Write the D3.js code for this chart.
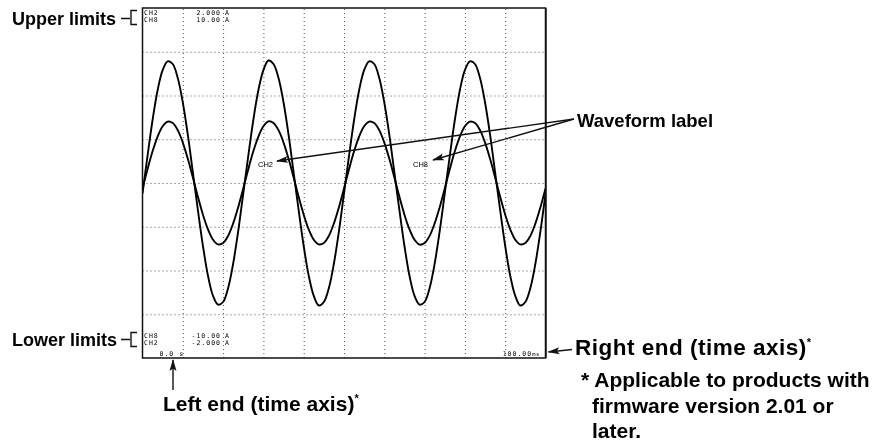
<!DOCTYPE html>
<html><head><meta charset="utf-8">
<script src="https://cdn.jsdelivr.net/npm/d3@7"></script>
<style>html,body{margin:0;padding:0;background:#fff;} svg{display:block;will-change:transform;}</style>
</head><body>
<svg id="chart" width="881" height="441"></svg>
<script>
// ---------- data ----------
const timesMs = [0,1.25,2.5,3.75,5,6.25,7.5,8.75,10,11.25,12.5,13.75,15,16.25,17.5,18.75,20,21.25,22.5,23.75,
  25,26.25,27.5,28.75,30,31.25,32.5,33.75,35,36.25,37.5,38.75,40,41.25,42.5,43.75,45,46.25,47.5,48.75,
  50,51.25,52.5,53.75,55,56.25,57.5,58.75,60,61.25,62.5,63.75,65,66.25,67.5,68.75,70,71.25,72.5,73.75,
  75,76.25,77.5,78.75,80,81.25,82.5,83.75,85,86.25,87.5,88.75,90,91.25,92.5,93.75,95,96.25,97.5,98.75,100];
const ch2Values = [-0.12,0.31,0.72,1.06,1.29,1.39,1.36,1.20,0.92,0.55,0.12,-0.31,-0.72,-1.06,-1.29,-1.39,-1.36,-1.20,-0.92,-0.55,
  -0.12,0.31,0.72,1.06,1.29,1.40,1.36,1.20,0.92,0.55,0.12,-0.31,-0.72,-1.06,-1.29,-1.40,-1.36,-1.20,-0.92,-0.55,
  -0.12,0.31,0.72,1.06,1.29,1.39,1.36,1.20,0.92,0.55,0.12,-0.31,-0.72,-1.06,-1.29,-1.39,-1.36,-1.20,-0.92,-0.55,
  -0.12,0.31,0.72,1.06,1.29,1.39,1.36,1.20,0.92,0.55,0.12,-0.31,-0.72,-1.06,-1.29,-1.40,-1.36,-1.20,-0.92,-0.55,-0.12];
const ch8Values = [-0.31,0.79,1.81,2.65,3.24,3.51,3.43,3.02,2.31,1.38,0.31,-0.79,-1.81,-2.65,-3.24,-3.51,-3.43,-3.02,-2.31,-1.38,
  -0.31,0.79,1.81,2.65,3.24,3.52,3.43,3.02,2.31,1.38,0.31,-0.79,-1.81,-2.65,-3.24,-3.51,-3.43,-3.02,-2.31,-1.38,
  -0.31,0.79,1.81,2.65,3.24,3.51,3.43,3.02,2.31,1.38,0.31,-0.79,-1.81,-2.65,-3.24,-3.52,-3.43,-3.02,-2.31,-1.38,
  -0.31,0.79,1.81,2.65,3.24,3.51,3.43,3.02,2.31,1.38,0.31,-0.79,-1.81,-2.65,-3.24,-3.51,-3.43,-3.02,-2.31,-1.38,-0.31];
const timeDomainMs = [0, 100];
const ch2RangeA = [-2, 2];
const ch8RangeA = [-10, 10];
const timeGridTicks = [10,20,30,40,50,60,70,80,90];
const ch2GridTicks = [-1.5,-1,-0.5,0,0.5,1,1.5];
const upperLimitChannels = ["CH2","CH8"];
const upperLimitValues = ["2.000","10.00"];
const lowerLimitChannels = ["CH8","CH2"];
const lowerLimitValues = ["-10.00","-2.000"];
const unitLabel = "A";
const leftEndLabel = "0.0 s";
const rightEndValue = "100.00";
const rightEndUnit = "ms";
const waveformLabels = ["CH2","CH8"];
const calloutTexts = {upper:"Upper limits", lower:"Lower limits", waveform:"Waveform label",
  leftEnd:"Left end (time axis)", rightEnd:"Right end (time axis)"};
const footnoteLines = ["* Applicable to products with","firmware version 2.01 or","later."];

// ---------- drawing ----------
const svg = d3.select("#chart");
const frame = {left:142.5, right:545.5, top:8, bottom:358};
const x = d3.scaleLinear().domain(timeDomainMs).range([frame.left, frame.right]);
const y2 = d3.scaleLinear().domain(ch2RangeA).range([frame.bottom, frame.top]);
const y8 = d3.scaleLinear().domain(ch8RangeA).range([frame.bottom, frame.top]);

const defs = svg.append("defs");
defs.append("marker").attr("id","ah").attr("viewBox","0 -4 12 8")
  .attr("refX",11).attr("refY",0).attr("markerWidth",12).attr("markerHeight",8)
  .attr("markerUnits","userSpaceOnUse").attr("orient","auto")
  .append("path").attr("d","M0,-3.5L12,0L0,3.5L2.5,0Z").attr("fill","#111");

// grid via axes
const plotH = frame.bottom - frame.top, plotW = frame.right - frame.left;
const gx = svg.append("g").attr("transform",`translate(0,${frame.bottom})`)
  .call(d3.axisBottom(x).tickValues(timeGridTicks).tickSize(-plotH).tickFormat(""));
const gy = svg.append("g").attr("transform",`translate(${frame.left},0)`)
  .call(d3.axisLeft(y2).tickValues(ch2GridTicks).tickSize(-plotW).tickFormat(""));
[gx, gy].forEach(g => {
  g.select(".domain").remove();
  g.selectAll(".tick line").attr("stroke","#555").attr("stroke-width",1).attr("stroke-dasharray","1,3");
});

// waveforms
const pts = timesMs.map((t,i)=>({t, a:ch2Values[i], b:ch8Values[i]}));
defs.append("clipPath").attr("id","clip").append("rect")
  .attr("x",frame.left).attr("y",frame.top).attr("width",plotW).attr("height",plotH);
const wave = svg.append("g").attr("clip-path","url(#clip)");
wave.append("path").datum(pts).attr("fill","none").attr("stroke","#000").attr("stroke-width",1.9)
  .attr("d", d3.line().x(d=>x(d.t)).y(d=>y2(d.a)).curve(d3.curveCatmullRom.alpha(0.5)));
wave.append("path").datum(pts).attr("fill","none").attr("stroke","#000").attr("stroke-width",1.9)
  .attr("d", d3.line().x(d=>x(d.t)).y(d=>y8(d.b)).curve(d3.curveCatmullRom.alpha(0.5)));

// frame
svg.append("rect").attr("x",frame.left).attr("y",frame.top).attr("width",plotW).attr("height",plotH)
  .attr("fill","none").attr("stroke","#111").attr("stroke-width",1.5);
svg.append("line").attr("x1",frame.right+0.5).attr("x2",frame.right+0.5).attr("y1",frame.top).attr("y2",frame.bottom)
  .attr("stroke","#111").attr("stroke-width",1.4);

// screen texts (monospace)
const mono = "'DejaVu Sans Mono', 'Liberation Mono', monospace";
const screen = svg.append("g").attr("font-family",mono).attr("font-size",6.5)
  .attr("letter-spacing",1).attr("fill","#000");
function limitRows(chs, vals, y0){
  chs.forEach((c,i)=>{
    const yy = y0 + i*7.2;
    screen.append("text").attr("x",144).attr("y",yy).text(c);
    screen.append("text").attr("x",221).attr("y",yy).attr("text-anchor","end").text(vals[i]);
    screen.append("text").attr("x",225).attr("y",yy).text(unitLabel);
  });
}
limitRows(upperLimitChannels, upperLimitValues, 14.5);
limitRows(lowerLimitChannels, lowerLimitValues, 337.5);
screen.append("text").attr("x",159.5).attr("y",355.5).text(leftEndLabel);
const re = screen.append("text").attr("x",540).attr("y",355.5).attr("text-anchor","end");
re.append("tspan").text(rightEndValue);
re.append("tspan").attr("font-size",5.5).attr("letter-spacing",0.6).text(rightEndUnit);

// waveform labels
const wl = svg.append("g").attr("font-family","'Liberation Sans', Arial, sans-serif").attr("font-size",7.5)
  .attr("fill","#000");
wl.append("text").attr("x",258).attr("y",167).text(waveformLabels[0]);
wl.append("text").attr("x",413).attr("y",167).text(waveformLabels[1]);

// callouts
const sans = "'Liberation Sans', Arial, Helvetica, sans-serif";
const ann = svg.append("g").attr("font-family",sans).attr("font-weight","bold").attr("fill","#000");
ann.append("text").attr("x",12).attr("y",25).attr("font-size",18).text(calloutTexts.upper);
ann.append("text").attr("x",12).attr("y",346).attr("font-size",18).text(calloutTexts.lower);
ann.append("text").attr("x",577).attr("y",127).attr("font-size",18.5).text(calloutTexts.waveform);
const le = ann.append("text").attr("x",163).attr("y",411).attr("font-size",21);
le.append("tspan").text(calloutTexts.leftEnd);
le.append("tspan").attr("font-size",11).attr("dy",-9).text("*");
const rt = ann.append("text").attr("x",575).attr("y",355).attr("font-size",22.5).attr("letter-spacing",0.5);
rt.append("tspan").text(calloutTexts.rightEnd);
rt.append("tspan").attr("font-size",11).attr("dy",-9).text("*");
footnoteLines.forEach((s,i)=>{
  ann.append("text").attr("x", i===0 ? 581 : 592).attr("y",387 + i*25.5).attr("font-size",21)
    .attr("xml:space","preserve").text(s);
});

// leader lines
const lines = svg.append("g").attr("stroke","#111").attr("fill","none").attr("stroke-width",1.4);
lines.append("path").attr("d","M121,18.5H130M137,10.5H131V24.5H137");
lines.append("path").attr("d","M121,339.5H130M137,332.5H131V346.5H137");
lines.append("line").attr("x1",574).attr("y1",119).attr("x2",277).attr("y2",161).attr("marker-end","url(#ah)");
lines.append("line").attr("x1",574).attr("y1",119).attr("x2",433).attr("y2",160).attr("marker-end","url(#ah)");
lines.append("line").attr("x1",173).attr("y1",390).attr("x2",173).attr("y2",360).attr("marker-end","url(#ah)");
lines.append("line").attr("x1",572).attr("y1",349.5).attr("x2",548.5).attr("y2",352).attr("marker-end","url(#ah)");
</script>
</body></html>
